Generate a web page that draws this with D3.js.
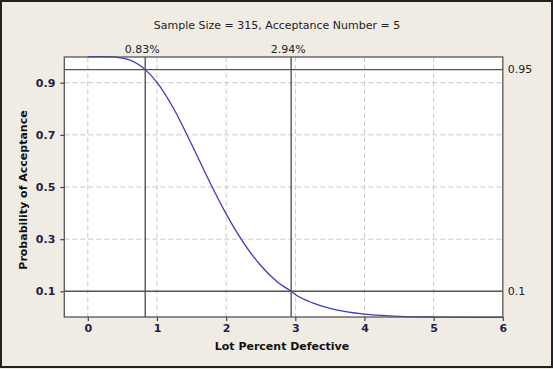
<!DOCTYPE html>
<html><head><meta charset="utf-8">
<script src="https://cdn.jsdelivr.net/npm/d3@7"></script>
<style>
html,body{margin:0;padding:0;background:#f0ece4;}
svg{display:block;}
text{font-family:"DejaVu Sans",Verdana,sans-serif;}
</style></head>
<body>
<svg id="c" width="553" height="369"></svg>
<script>
// Data (percent defective -> probability of acceptance)
const lotPercent = [0, 0.25, 0.5, 0.75, 0.83, 1.0, 1.25, 1.5, 1.75, 2.0, 2.25, 2.5, 2.75, 2.94, 3.0, 3.25, 3.5, 3.75, 4.0, 4.25, 4.5, 5.0, 5.5, 6.0];
const probAccept = [1.0, 0.9999, 0.9945, 0.967, 0.95, 0.901, 0.796, 0.664, 0.526, 0.397, 0.287, 0.199, 0.134, 0.10, 0.0877, 0.0558, 0.0346, 0.0211, 0.0126, 0.0074, 0.0043, 0.0014, 0.0004, 0.0001];
const xTicks = [0, 1, 2, 3, 4, 5, 6];
const yTicks = [0.1, 0.3, 0.5, 0.7, 0.9];
const refX = [0.83, 2.94];
const refXLabels = ["0.83%", "2.94%"];
const refY = [0.95, 0.1];
const refYLabels = ["0.95", "0.1"];
const title = "Sample Size = 315, Acceptance Number = 5";
const xTitle = "Lot Percent Defective";
const yTitle = "Probability of Acceptance";

const svg = d3.select("#c");
const W = 553, H = 369;
const L = 64.3, R = 502.8, T = 57, B = 317;

svg.append("rect").attr("x", 1).attr("y", 1).attr("width", W - 2).attr("height", H - 3)
  .attr("fill", "#f0ece4").attr("stroke", "#222").attr("stroke-width", 2);

const x = d3.scaleLinear().domain([-0.34, 6]).range([L, R]);
const y = d3.scaleLinear().domain([0, 1]).range([317.4, 56.6]);

svg.append("rect").attr("x", L).attr("y", T).attr("width", R - L).attr("height", B - T)
  .attr("fill", "#fff");

// gridlines
svg.append("g").selectAll("line").data(xTicks.filter(d => d < 6)).join("line")
  .attr("x1", d => x(d)).attr("x2", d => x(d)).attr("y1", T).attr("y2", B)
  .attr("stroke", "#c8c8c8").attr("stroke-width", 1).attr("stroke-dasharray", "5,3");
svg.append("g").selectAll("line").data(yTicks).join("line")
  .attr("x1", L).attr("x2", R).attr("y1", d => y(d)).attr("y2", d => y(d))
  .attr("stroke", "#c8c8c8").attr("stroke-width", 1).attr("stroke-dasharray", "5,3");

// axes
const xAxis = d3.axisBottom(x).tickValues(xTicks).tickSize(4).tickSizeOuter(0).tickPadding(3).tickFormat(d3.format("d"));
const gx = svg.append("g").attr("transform", `translate(0,${B})`).call(xAxis);
const yAxis = d3.axisLeft(y).tickValues(yTicks).tickSize(4).tickSizeOuter(0).tickPadding(5).tickFormat(d3.format(".1f"));
const gy = svg.append("g").attr("transform", `translate(${L},0)`).call(yAxis);
[gx, gy].forEach(g => {
  g.select(".domain").remove();
  g.selectAll(".tick line").attr("stroke", "#444").attr("stroke-width", 1.2);
  g.selectAll(".tick text").attr("fill", "#1e1e4a").attr("font-size", "11px")
    .attr("font-weight", "bold").attr("font-family", "\"DejaVu Sans\",sans-serif");
});

// curve
const line = d3.line().x((d, i) => x(lotPercent[i])).y(d => y(d)).curve(d3.curveMonotoneX);
svg.append("path").datum(probAccept).attr("d", line)
  .attr("fill", "none").attr("stroke", "#3b3bbd").attr("stroke-width", 1.3);

// reference lines
svg.append("g").selectAll("line").data(refX).join("line")
  .attr("x1", d => x(d)).attr("x2", d => x(d)).attr("y1", T).attr("y2", B)
  .attr("stroke", "#555").attr("stroke-width", 1.4);
svg.append("g").selectAll("line").data(refY).join("line")
  .attr("x1", L).attr("x2", R).attr("y1", d => y(d)).attr("y2", d => y(d))
  .attr("stroke", "#555").attr("stroke-width", 1.4);

// plot border
svg.append("rect").attr("x", L).attr("y", T).attr("width", R - L).attr("height", B - T)
  .attr("fill", "none").attr("stroke", "#555").attr("stroke-width", 1.3);

// ref labels
svg.append("g").selectAll("text").data(refX).join("text")
  .attr("x", d => x(d) - 3).attr("y", 52.5).attr("text-anchor", "middle")
  .attr("font-size", "11px").attr("fill", "#222").text((d, i) => refXLabels[i]);
svg.append("g").selectAll("text").data(refY).join("text")
  .attr("x", R + 5).attr("y", d => y(d)).attr("dy", "0.35em")
  .attr("font-size", "11px").attr("fill", "#222").text((d, i) => refYLabels[i]);

// titles
svg.append("text").attr("x", 277).attr("y", 25).attr("dy", "0.35em").attr("text-anchor", "middle")
  .attr("font-size", "11px").attr("fill", "#222").text(title);
svg.append("text").attr("x", 282).attr("y", 346).attr("dy", "0.35em").attr("text-anchor", "middle")
  .attr("font-size", "11px").attr("font-weight", "bold").attr("fill", "#111").text(xTitle);
svg.append("text").attr("transform", "translate(23.5,190) rotate(-90)").attr("dy", "0.35em")
  .attr("text-anchor", "middle").attr("font-size", "11px").attr("font-weight", "bold")
  .attr("fill", "#111").text(yTitle);
</script>
</body></html>
